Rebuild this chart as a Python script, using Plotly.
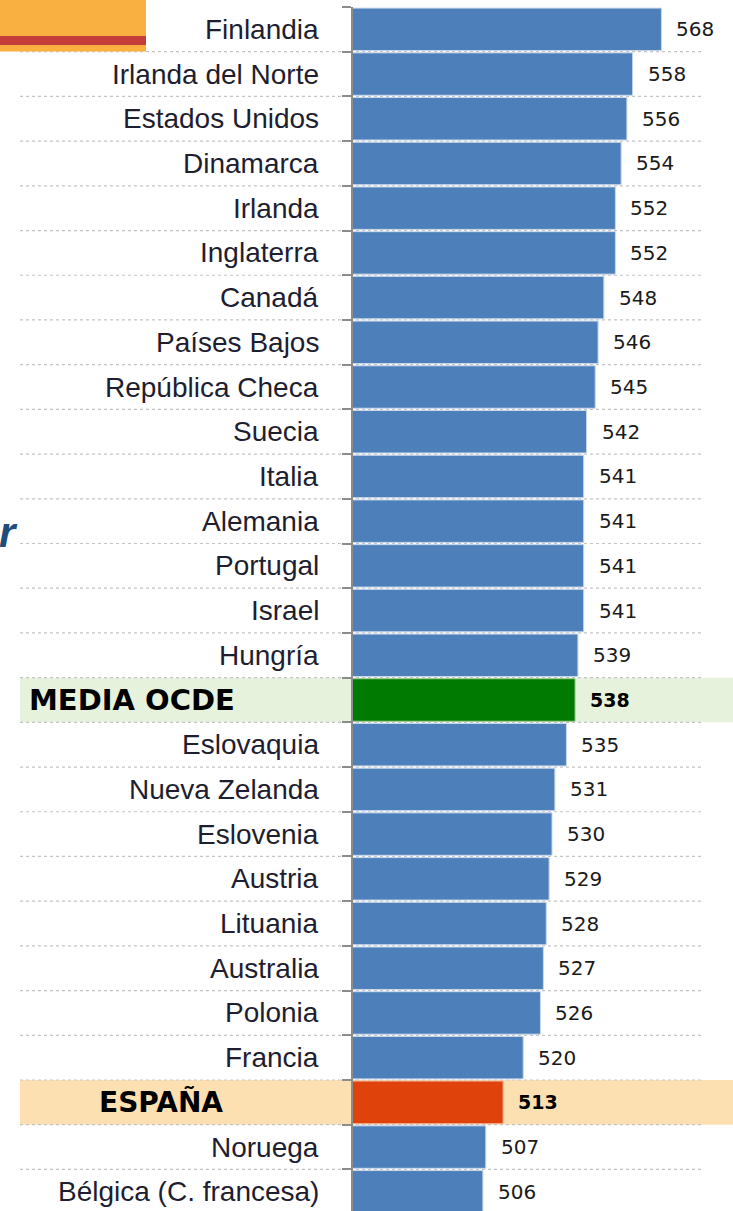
import plotly.graph_objects as go

countries = [
    "Finlandia", "Irlanda del Norte", "Estados Unidos", "Dinamarca", "Irlanda",
    "Inglaterra", "Canadá", "Países Bajos", "República Checa", "Suecia",
    "Italia", "Alemania", "Portugal", "Israel", "Hungría", "MEDIA OCDE",
    "Eslovaquia", "Nueva Zelanda", "Eslovenia", "Austria", "Lituania",
    "Australia", "Polonia", "Francia", "ESPAÑA", "Noruega",
    "Bélgica (C. francesa)",
]
scores = [568, 558, 556, 554, 552, 552, 548, 546, 545, 542, 541, 541, 541, 541,
          539, 538, 535, 531, 530, 529, 528, 527, 526, 520, 513, 507, 506]

OCDE = "MEDIA OCDE"
SPAIN = "ESPAÑA"

BLUE, BLUE_LINE = "#4D80BA", "#C9D8EA"
GREEN, GREEN_LINE = "#007A00", "#9BCB8E"
ORANGE, ORANGE_LINE = "#E0420B", "#F4A888"
OCDE_BAND = "#E6F2DC"
SPAIN_BAND = "#FCE0B2"

W, H = 733, 1211
ML, MT = 353, 7
PW, PH = W - ML, H - MT


def px_x(p):
    return (p - ML) / PW


def px_y(p):
    return (H - p) / PH


bar_colors = [GREEN if c == OCDE else ORANGE if c == SPAIN else BLUE for c in countries]
line_colors = [GREEN_LINE if c == OCDE else ORANGE_LINE if c == SPAIN else BLUE_LINE for c in countries]

fig = go.Figure()
fig.add_trace(go.Bar(
    x=scores, y=countries, orientation="h",
    marker=dict(color=bar_colors, line=dict(color=line_colors, width=1)),
    hoverinfo="x+y",
))

shapes = []
n = len(countries)
# highlight bands
for i, c in enumerate(countries):
    if c in (OCDE, SPAIN):
        shapes.append(dict(type="rect", xref="paper", yref="y",
                           x0=px_x(20), x1=1.0, y0=i - 0.5, y1=i + 0.5,
                           fillcolor=OCDE_BAND if c == OCDE else SPAIN_BAND,
                           line=dict(width=0), layer="below"))
# dotted separators
for i in range(n - 1):
    shapes.append(dict(type="line", xref="paper", yref="y",
                       x0=px_x(20), x1=px_x(702), y0=i + 0.5, y1=i + 0.5,
                       line=dict(color="#C4C4C4", width=1.2, dash="dot"),
                       layer="below"))
# top-left slide decoration
shapes.append(dict(type="rect", xref="paper", yref="paper",
                   x0=px_x(0), x1=px_x(146), y0=px_y(51.5), y1=px_y(0),
                   fillcolor="#FAB041", line=dict(width=0), layer="above"))
shapes.append(dict(type="rect", xref="paper", yref="paper",
                   x0=px_x(0), x1=px_x(146), y0=px_y(45), y1=px_y(36),
                   fillcolor="#C53D3A", line=dict(width=0), layer="above"))

annotations = []
for c, v in zip(countries, scores):
    if c == OCDE:
        annotations.append(dict(x=px_x(27), xref="paper", y=c, yref="y", text=c,
                                xanchor="left", yanchor="middle", showarrow=False,
                                font=dict(family="DejaVu Sans", size=29, color="#000000", weight="bold")))
    elif c == SPAIN:
        annotations.append(dict(x=px_x(161), xref="paper", y=c, yref="y", text=c,
                                xanchor="center", yanchor="middle", showarrow=False,
                                font=dict(family="DejaVu Sans", size=28, color="#000000", weight="bold")))
    else:
        annotations.append(dict(x=px_x(321), xref="paper", y=c, yref="y", text=c,
                                xanchor="right", yanchor="middle", showarrow=False,
                                font=dict(family="Liberation Sans", size=28, color="#1E1E30")))
    bold = c in (OCDE, SPAIN)
    annotations.append(dict(x=v, xref="x", y=c, yref="y", text=str(v),
                            xanchor="left", yanchor="middle", xshift=13, showarrow=False,
                            font=dict(family="DejaVu Sans", size=20 if not bold else 19,
                                      color="#000000" if bold else "#1A1A1A",
                                      weight="bold" if bold else "normal")))

# cropped slide text fragment on the left
annotations.append(dict(x=px_x(20), xref="paper", y=px_y(532), yref="paper", text="r",
                        xanchor="right", yanchor="middle", showarrow=False,
                        font=dict(family="Liberation Sans", size=42, color="#1F4E79",
                                  weight="bold", style="italic")))

fig.update_layout(
    width=W, height=H,
    margin=dict(l=ML, r=0, t=MT, b=0),
    paper_bgcolor="white", plot_bgcolor="rgba(0,0,0,0)",
    showlegend=False, bargap=0.05,
    shapes=shapes, annotations=annotations,
    xaxis=dict(range=[460.9, 460.9 + PW / 2.88], visible=False, fixedrange=True),
    yaxis=dict(type="category", range=[n - 0.57, -0.5], showticklabels=False,
               tickson="boundaries", ticks="outside", ticklen=9, tickwidth=2,
               tickcolor="#8C8C8C", showline=True, linecolor="#8C8C8C", linewidth=2,
               showgrid=False, zeroline=False, fixedrange=True),
)

fig.write_html("out.html", config={"displayModeBar": False},
               post_script="document.body.style.margin='0px';")
